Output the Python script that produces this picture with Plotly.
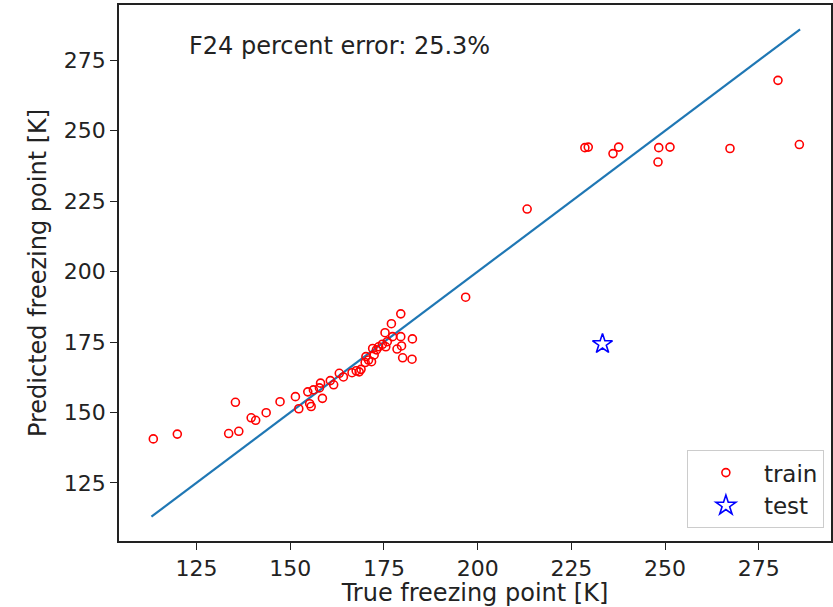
import plotly.graph_objects as go

train_true = [113.5, 119.9, 133.6, 135.4, 136.3, 139.6, 140.8, 143.6, 147.3, 151.4,
              152.3, 154.7, 155.2, 155.6, 156.2, 157.8, 158.1, 158.6, 160.7, 161.6,
              163.1, 164.2, 166.5, 167.6, 168.4, 168.9, 170.0, 170.2, 170.9, 171.7,
              172.0, 172.4, 173.0, 173.6, 174.6, 175.3, 175.5, 175.9, 177.0, 177.3,
              178.5, 179.5, 179.5, 179.7, 180.0, 182.5, 182.6, 196.8, 213.2, 228.6,
              229.5, 236.1, 237.6, 248.1, 248.3, 251.3, 267.3, 280.1, 285.8]
train_pred = [140.6, 142.3, 142.5, 153.6, 143.3, 148.1, 147.2, 149.9, 153.8, 155.6,
              151.3, 157.3, 153.1, 152.1, 158.0, 158.7, 160.4, 155.0, 161.3, 159.8,
              163.9, 162.6, 164.1, 164.8, 164.4, 165.3, 167.7, 169.8, 168.6, 168.0,
              172.7, 170.4, 172.2, 173.3, 174.2, 178.3, 173.3, 175.1, 181.5, 176.9,
              172.5, 185.0, 176.9, 173.6, 169.4, 168.9, 176.1, 190.9, 222.2, 244.0,
              244.2, 241.9, 244.2, 238.9, 244.0, 244.2, 243.7, 267.9, 245.1]
test_true = [233.3]
test_pred = [174.3]
line_vals = [113.0, 286.0]
x_ticks = [125, 150, 175, 200, 225, 250, 275]
y_ticks = [125, 150, 175, 200, 225, 250, 275]
annotation_text = "F24 percent error: 25.3%"

FONT = "DejaVu Sans"

fig = go.Figure()
fig.add_trace(go.Scatter(
    x=line_vals, y=line_vals, mode="lines",
    line=dict(color="#1f77b4", width=2.2), showlegend=False, hoverinfo="skip"))
fig.add_trace(go.Scatter(
    x=train_true, y=train_pred, mode="markers", name="train",
    marker=dict(symbol="circle-open", size=8, color="red", line=dict(width=1.6, color="red"))))
fig.add_trace(go.Scatter(
    x=test_true, y=test_pred, mode="markers", name="test",
    marker=dict(symbol="star-open", size=15, color="blue", line=dict(width=1.6, color="blue"))))

axis_common = dict(
    showgrid=False, zeroline=False, showline=True, linecolor="#222222", linewidth=1.5,
    ticks="outside", ticklen=7, tickwidth=1.3, tickcolor="#222222",
    tickfont=dict(family=FONT, size=22, color="#222222"), mirror=True,
)

fig.update_layout(
    width=833, height=607,
    margin=dict(l=119, r=0, t=5, b=66),
    paper_bgcolor="white", plot_bgcolor="white",
    font=dict(family=FONT, size=22, color="#222222"),
    xaxis=dict(range=[104.35, 294.24], tickvals=x_ticks,
               title=dict(text="True freezing point [K]", font=dict(family=FONT, size=24), standoff=6),
               **axis_common),
    yaxis=dict(range=[104.35, 294.65], tickvals=y_ticks,
               title=dict(text="Predicted freezing point [K]", font=dict(family=FONT, size=24), standoff=10),
               **axis_common),
    legend=dict(x=0.99, y=0.024, xanchor="right", yanchor="bottom",
                bordercolor="#cccccc", borderwidth=1, bgcolor="white",
                itemwidth=66,
                font=dict(family=FONT, size=23, color="#222222")),
    annotations=[dict(text=annotation_text, xref="paper", yref="paper",
                      x=0.0952, y=0.9235, xanchor="left", yanchor="middle",
                      showarrow=False, font=dict(family=FONT, size=24, color="#222222"))],
)

fig.write_html("out.html")
